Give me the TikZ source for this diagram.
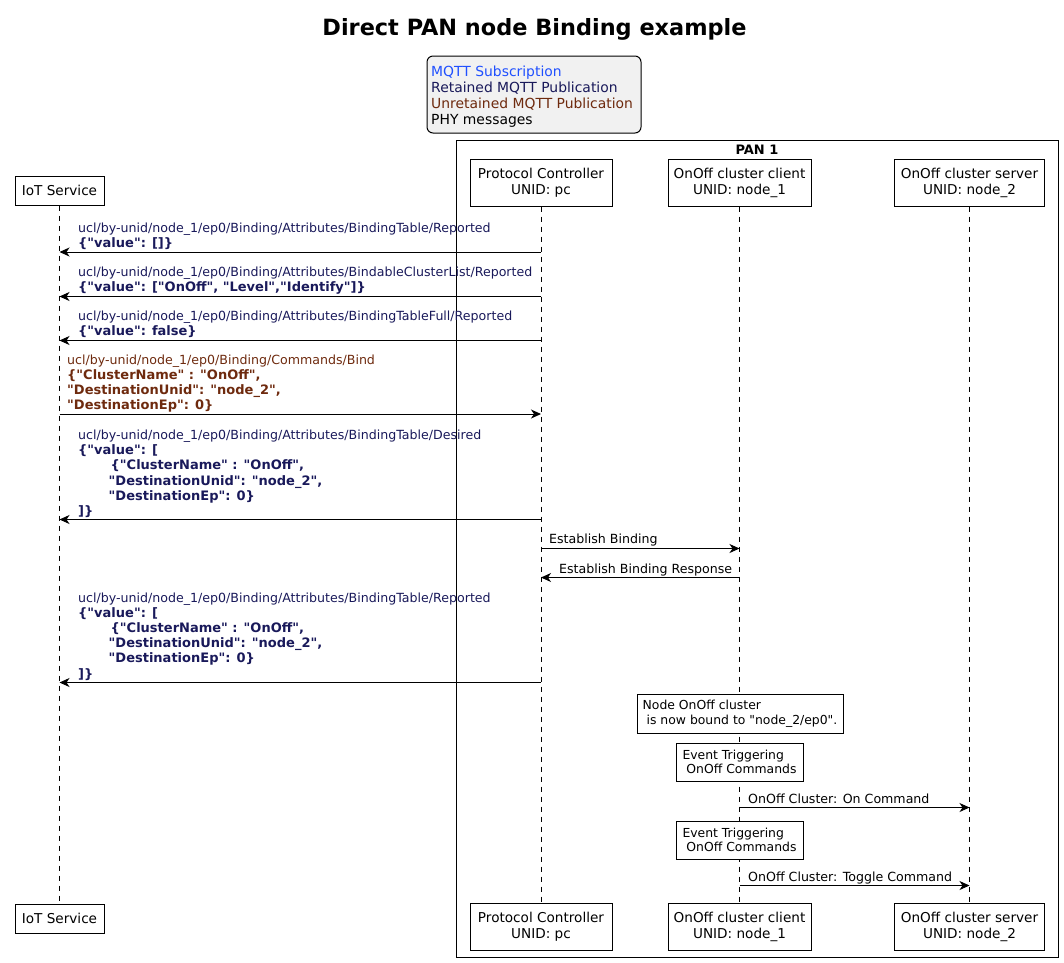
\documentclass[tikz,border=0pt]{standalone}
\usepackage{fontspec}
\setmainfont{DejaVu Sans}[Ligatures=TeXOff]
\usetikzlibrary{arrows.meta}
\definecolor{subblue}{RGB}{32,80,255}
\definecolor{retnavy}{RGB}{25,25,90}
\definecolor{unbrown}{RGB}{110,42,14}
\definecolor{legfill}{RGB}{241,241,241}
\newcommand\fpart{\fontsize{13.6}{16}\selectfont}
\newcommand\fleg{\fontsize{13.9}{16}\selectfont}
\newcommand\fmsg{\fontsize{12.6}{15.2}\selectfont}
\newcommand\fnote{\fontsize{12.4}{14.5}\selectfont}
\newcommand\bj{\fontsize{13}{15.2}\selectfont\bfseries}
\newcommand\ML[1]{\vtop{\baselineskip=15.2pt #1}}
\newcommand\NL[1]{\vtop{\baselineskip=14.5pt #1}}
\begin{document}
\begin{tikzpicture}[x=1pt,y=-1pt,
  part/.style={draw, line width=1pt, fill=white, align=center, font=\fpart, inner sep=0pt},
  life/.style={dash pattern=on 5pt off 5pt, line width=0.8pt},
  msg/.style={line width=1pt, -{Stealth[length=10pt,width=9pt,inset=3pt]}},
  lbl/.style={anchor=base west, inner sep=0pt, font=\fmsg},
  notebox/.style={draw, fill=white, line width=1pt, font=\fnote, inner xsep=4pt, inner ysep=0pt},
  legtext/.style={anchor=base west, inner sep=0pt, font=\fleg}]
\useasboundingbox (0,0) rectangle (1064,962);

% title
\node[anchor=base, inner sep=0pt, font=\fontsize{22.4}{26}\selectfont\bfseries] (title) at (534.5,35) {Direct PAN node Binding example};

% legend
\node[draw, line width=1pt, fill=legfill, rounded corners=6pt, minimum width=214pt, minimum height=77pt, inner sep=0pt] (legend) at (534,94.5) {};
\node[legtext, text=subblue] (lg1) at (431,76) {MQTT Subscription};
\node[legtext, text=retnavy] (lg2) at (431,92) {Retained MQTT Publication};
\node[legtext, text=unbrown] (lg3) at (431,108) {Unretained MQTT Publication};
\node[legtext, text=black] (lg4) at (431,124) {PHY messages};

% PAN box
\node[draw, line width=1pt, minimum width=602pt, minimum height=817pt, inner sep=0pt] (pan) at (757,548.5) {};
\node[anchor=base, inner sep=0pt, font=\fontsize{13}{16}\selectfont\bfseries] (pantitle) at (757,154) {PAN 1};

% participants
\node[part, minimum width=89pt, minimum height=29pt] (iot) at (59.5,190.5) {IoT Service};
\node[part, minimum width=142pt, minimum height=47pt] (pc) at (541,182.5) {Protocol Controller\\UNID: pc};
\node[part, minimum width=143pt, minimum height=47pt] (cli) at (739.5,182.5) {OnOff cluster client\\UNID: node\_1};
\node[part, minimum width=150pt, minimum height=47pt] (srv) at (969.5,182.5) {OnOff cluster server\\UNID: node\_2};

\node[part, minimum width=89pt, minimum height=29pt] (iotB) at (59.5,918.5) {IoT Service};
\node[part, minimum width=142pt, minimum height=47pt] (pcB) at (541,927) {Protocol Controller\\UNID: pc};
\node[part, minimum width=143pt, minimum height=47pt] (cliB) at (739.5,927) {OnOff cluster client\\UNID: node\_1};
\node[part, minimum width=150pt, minimum height=47pt] (srvB) at (969.5,927) {OnOff cluster server\\UNID: node\_2};

% lifelines
\draw[life] (iot.south) -- (iotB.north);
\draw[life] (pc.south) -- (pcB.north);
\draw[life] (cli.south) -- (cliB.north);
\draw[life] (srv.south) -- (srvB.north);

% message 1
\node[lbl, text=retnavy] (m1) at (78,232) {\ML{\hbox{ucl/by-unid/node\_1/ep0/Binding/Attributes/BindingTable/Reported}\hbox{\bj \{"value": []\}}}};
\draw[msg] (pc |- 0,252) -- (iot |- 0,252);

% message 2
\node[lbl, text=retnavy] (m2) at (78,276.5) {\ML{\hbox{ucl/by-unid/node\_1/ep0/Binding/Attributes/BindableClusterList/Reported}\hbox{\bj \{"value": ["OnOff", "Level","Identify"]\}}}};
\draw[msg] (pc |- 0,296.5) -- (iot |- 0,296.5);

% message 3
\node[lbl, text=retnavy] (m3) at (78,320.5) {\ML{\hbox{ucl/by-unid/node\_1/ep0/Binding/Attributes/BindingTableFull/Reported}\hbox{\bj \{"value": false\}}}};
\draw[msg] (pc |- 0,340.5) -- (iot |- 0,340.5);

% message 4 (Bind)
\node[lbl, text=unbrown] (m4) at (67,364) {\ML{\hbox{ucl/by-unid/node\_1/ep0/Binding/Commands/Bind}\hbox{\bj \{"ClusterName" : "OnOff",}\hbox{\bj "DestinationUnid": "node\_2",}\hbox{\bj "DestinationEp": 0\}}}};
\draw[msg] (iot |- 0,414) -- (pc |- 0,414);

% message 5 (Desired)
\node[lbl, text=retnavy] (m5) at (78,439.5) {\ML{\hbox{ucl/by-unid/node\_1/ep0/Binding/Attributes/BindingTable/Desired}\hbox{\bj \{"value": [}\hbox{\bj\hspace*{32.5pt}\{"ClusterName" : "OnOff",}\hbox{\bj\hspace*{30.5pt}"DestinationUnid": "node\_2",}\hbox{\bj\hspace*{30.5pt}"DestinationEp": 0\}}\hbox{\bj ]\}}}};
\draw[msg] (pc |- 0,519.5) -- (iot |- 0,519.5);

% message 6/7
\node[lbl] (m6) at (549,543.5) {Establish Binding};
\draw[msg] (pc |- 0,548.5) -- (cli |- 0,548.5);
\node[lbl] (m7) at (559,573) {Establish Binding Response};
\draw[msg] (cli |- 0,577.5) -- (pc |- 0,577.5);

% message 8 (Reported)
\node[lbl, text=retnavy] (m8) at (78,602) {\ML{\hbox{ucl/by-unid/node\_1/ep0/Binding/Attributes/BindingTable/Reported}\hbox{\bj \{"value": [}\hbox{\bj\hspace*{32.5pt}\{"ClusterName" : "OnOff",}\hbox{\bj\hspace*{30.5pt}"DestinationUnid": "node\_2",}\hbox{\bj\hspace*{30.5pt}"DestinationEp": 0\}}\hbox{\bj ]\}}}};
\draw[msg] (pc |- 0,682.5) -- (iot |- 0,682.5);

% notes
\node[notebox, minimum width=206pt, minimum height=39pt] (n1) at (740,713.5) {\NL{\hbox{Node OnOff cluster}\hbox{ is now bound to "node\_2/ep0".}}};
\node[notebox, minimum width=127pt, minimum height=38pt] (n2) at (739.5,762) {\NL{\hbox{Event Triggering}\hbox{ OnOff Commands}}};
\node[lbl] (m9) at (748,803) {OnOff Cluster: On Command};
\draw[msg] (cli |- 0,807.5) -- (srv |- 0,807.5);
\node[notebox, minimum width=127pt, minimum height=38pt] (n3) at (739.5,840) {\NL{\hbox{Event Triggering}\hbox{ OnOff Commands}}};
\node[lbl] (m10) at (748,881) {OnOff Cluster: Toggle Command};
\draw[msg] (cli |- 0,885.5) -- (srv |- 0,885.5);
\end{tikzpicture}
\end{document}
